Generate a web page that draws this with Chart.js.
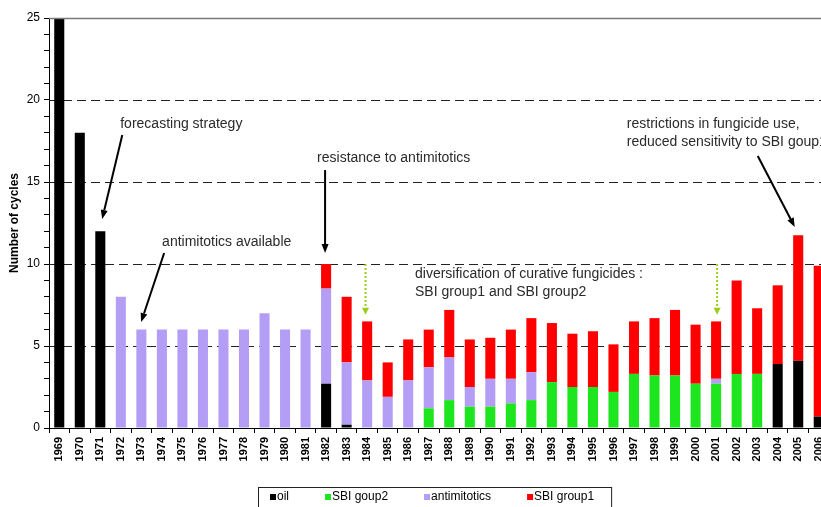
<!DOCTYPE html>
<html><head><meta charset="utf-8">
<script src="https://cdn.jsdelivr.net/npm/chart.js@4.4.1/dist/chart.umd.min.js"></script>
<style>
html,body{margin:0;padding:0;background:#fff;overflow:hidden;}
#wrap{position:relative;width:829px;height:507px;}
canvas{display:block;}
</style></head><body>
<div id="wrap"><canvas id="c" width="829" height="507"></canvas></div>
<script>
// ---- data ----
const years = ["1969","1970","1971","1972","1973","1974","1975","1976","1977","1978","1979","1980","1981","1982","1983","1984","1985","1986","1987","1988","1989","1990","1991","1992","1993","1994","1995","1996","1997","1998","1999","2000","2001","2002","2003","2004","2005","2006"];
const oil =          [25,18,12,0,0,0,0,0,0,0,0,0,0,2.7,0.2,0,0,0,0,0,0,0,0,0,0,0,0,0,0,0,0,0,0,0,0,3.9,4.1,0.7];
const sbiGroup2 =    [0,0,0,0,0,0,0,0,0,0,0,0,0,0,0,0,0,0,1.2,1.7,1.3,1.3,1.5,1.7,2.8,2.5,2.5,2.2,3.3,3.2,3.2,2.7,2.7,3.3,3.3,0,0,0];
const antimitotics = [0,0,0,8,6,6,6,6,6,6,7,6,6,5.8,3.8,2.9,1.9,2.9,2.5,2.6,1.2,1.7,1.5,1.7,0,0,0,0,0,0,0,0,0.3,0,0,0,0,0];
const sbiGroup1 =    [0,0,0,0,0,0,0,0,0,0,0,0,0,1.5,4.0,3.6,2.1,2.5,2.3,2.9,2.9,2.5,3.0,3.3,3.6,3.25,3.4,2.9,3.2,3.5,4.0,3.6,3.5,5.7,4.0,4.8,7.65,9.2];
const seriesNames = ["oil","SBI goup2","antimitotics","SBI group1"];
const seriesColors = ["#000000","#1ee61e","#b49ef5","#ff0000"];
const yMajorTicks = [0,5,10,15,20,25];
const yAxisTitle = "Number of cycles";
// annotations positioned in data units (category index, value)
const notes = [
  {lines:["forecasting strategy"], x:2.97, y:18.54},
  {lines:["antimitotics available"], x:5.01, y:11.34},
  {lines:["resistance to antimitotics"], x:12.56, y:16.46},
  {lines:["diversification of curative fungicides :","SBI group1 and SBI group2"], x:17.33, y:9.37},
  {lines:["restrictions in fungicide use,","reduced sensitivity to SBI goup1"], x:27.65, y:18.54}
];
const blackArrows = [
  {x1:3.07, y1:17.87, x2:2.09, y2:12.74},
  {x1:5.11, y1:10.67, x2:3.99, y2:6.46},
  {x1:12.95, y1:15.73, x2:12.95, y2:10.67},
  {x1:34.03, y1:16.59, x2:35.83, y2:12.26}
];
const greenArrows = [
  {x1:14.92, y1:10, x2:14.92, y2:6.9},
  {x1:32.05, y1:10, x2:32.05, y2:6.9}
];

const FONT = '"Liberation Sans", Arial, Helvetica, sans-serif';
Chart.defaults.font.family = FONT;

function arrow(ctx, x1, y1, x2, y2, color, width, dash, head, headW){
  const ang = Math.atan2(y2-y1, x2-x1);
  const bx = x2 - Math.cos(ang)*head, by = y2 - Math.sin(ang)*head;
  ctx.save();
  ctx.strokeStyle = color; ctx.fillStyle = color; ctx.lineWidth = width;
  ctx.setLineDash(dash);
  ctx.beginPath(); ctx.moveTo(x1,y1); ctx.lineTo(bx,by); ctx.stroke();
  ctx.setLineDash([]);
  ctx.beginPath();
  ctx.moveTo(x2,y2);
  ctx.lineTo(bx + Math.sin(ang)*headW, by - Math.cos(ang)*headW);
  ctx.lineTo(bx - Math.sin(ang)*headW, by + Math.cos(ang)*headW);
  ctx.closePath(); ctx.fill();
  ctx.restore();
}

const decor = {
  id:'decor',
  beforeDatasetsDraw(chart){
    const {ctx, chartArea:a, scales:{y}} = chart;
    ctx.save();
    ctx.strokeStyle = '#222'; ctx.lineWidth = 1; ctx.setLineDash([9,5]);
    yMajorTicks.forEach(v => {
      if (v <= y.min || v >= y.max) return;
      const py = Math.round(y.getPixelForValue(v)) + 0.5;
      ctx.beginPath(); ctx.moveTo(a.left, py); ctx.lineTo(a.right, py); ctx.stroke();
    });
    ctx.restore();
  },
  afterDraw(chart){
    const {ctx, chartArea:a, scales:{x, y}} = chart;
    ctx.save();
    // plot frame top
    ctx.strokeStyle = '#7a7a7a'; ctx.lineWidth = 1.5;
    ctx.beginPath(); ctx.moveTo(a.left, a.top + 0.5); ctx.lineTo(a.right, a.top + 0.5); ctx.stroke();
    // annotation text
    ctx.font = '14px ' + FONT; ctx.fillStyle = '#2a2a2a'; ctx.textBaseline = 'middle'; ctx.textAlign = 'left';
    notes.forEach(n => {
      const px = x.getPixelForValue(n.x), py = y.getPixelForValue(n.y);
      n.lines.forEach((t,i) => ctx.fillText(t, px, py + i*18));
    });
    blackArrows.forEach(r => arrow(ctx, x.getPixelForValue(r.x1), y.getPixelForValue(r.y1), x.getPixelForValue(r.x2), y.getPixelForValue(r.y2), '#000', 2, [], 9, 3.5));
    greenArrows.forEach(r => arrow(ctx, x.getPixelForValue(r.x1), y.getPixelForValue(r.y1), x.getPixelForValue(r.x2), y.getPixelForValue(r.y2), '#9ccc1a', 2, [2,2], 7, 3.5));
    // legend
    ctx.font = '12px ' + FONT; ctx.textBaseline = 'middle';
    const ly = 497; let lx = 270;
    chart.data.datasets.forEach(ds => {
      ctx.fillStyle = ds.backgroundColor; ctx.fillRect(lx, ly-3, 6, 6);
      lx += 7;
      ctx.fillStyle = '#000'; ctx.fillText(ds.label, lx, ly);
      lx += ctx.measureText(ds.label).width + 36;
    });
    const right = lx - 36 + 17;
    ctx.strokeStyle = '#222'; ctx.lineWidth = 1;
    ctx.strokeRect(258.5, 487.5, right - 258, 40);
    ctx.restore();
  }
};

const datasets = [oil, sbiGroup2, antimitotics, sbiGroup1].map((d,i) => ({
  label: seriesNames[i], data: d, backgroundColor: seriesColors[i], borderWidth: 0
}));

new Chart(document.getElementById('c'), {
  type:'bar',
  data:{labels: years, datasets},
  plugins:[decor],
  options:{
    responsive:false, animation:false, devicePixelRatio:1,
    layout:{padding:{top:18, left:0, right:0, bottom:39}},
    plugins:{legend:{display:false}, tooltip:{enabled:false}},
    datasets:{bar:{categoryPercentage:1, barPercentage:0.49}},
    scales:{
      x:{
        stacked:true,
        grid:{display:true, drawOnChartArea:false, drawTicks:true, tickLength:5, color:'#000', offset:true},
        border:{color:'#000', width:1},
        ticks:{autoSkip:false, maxRotation:90, minRotation:90, padding:4, color:'#000', font:{size:11, weight:'bold'}},
        afterFit(s){ s.height = 40; s.paddingLeft = 0; s.paddingRight = 0; }
      },
      y:{
        stacked:true, min:0, max:25,
        grid:{drawOnChartArea:false, tickLength:5, color:'#000'},
        border:{color:'#000', width:1},
        ticks:{stepSize:1, autoSkip:false, padding:4, color:'#000', font:{size:12},
               callback:(v) => yMajorTicks.includes(v) ? String(v) : ''},
        title:{display:true, text:yAxisTitle, color:'#000', font:{size:12, weight:'bold'}, padding:{top:7, bottom:0}},
        afterFit(s){ s.width = 49; }
      }
    }
  }
});
</script>
</body></html>
